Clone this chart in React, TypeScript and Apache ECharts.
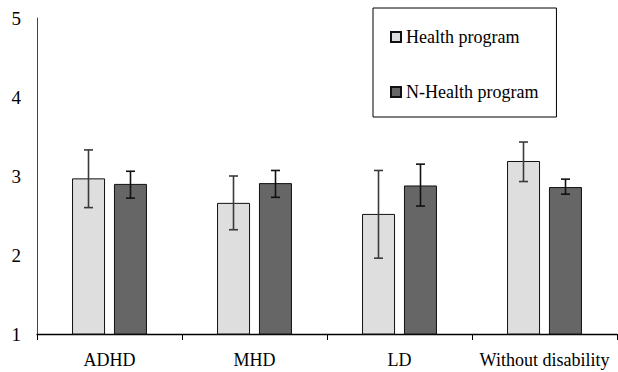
import React, { useEffect, useRef } from "react";
import * as echarts from "echarts";

const categories = ["ADHD", "MHD", "LD", "Without disability"];
const healthValues = [2.97, 2.66, 2.52, 3.19];
const healthLow = [2.6, 2.32, 1.96, 2.93];
const healthHigh = [3.33, 3.0, 3.07, 3.43];
const nHealthValues = [2.9, 2.91, 2.88, 2.86];
const nHealthLow = [2.72, 2.73, 2.62, 2.77];
const nHealthHigh = [3.06, 3.07, 3.15, 2.96];
const yTicks = [1, 2, 3, 4, 5];

const FONT = "'Liberation Serif', 'Times New Roman', serif";

function errorSeries(low: number[], high: number[], offset: number, color: string) {
  return {
    type: "custom",
    silent: true,
    z: 10,
    data: categories.map((_, i) => [i, low[i], high[i]]),
    encode: { x: 0, y: [1, 2] },
    renderItem: (params: any, api: any) => {
      const idx = api.value(0);
      const lo = api.coord([idx, api.value(1)]);
      const hi = api.coord([idx, api.value(2)]);
      const band = api.size([1, 0])[0];
      const x = lo[0] + (offset * band) / 145;
      const hw = 4.5;
      const style = { stroke: color, lineWidth: 1.6 };
      return {
        type: "group",
        children: [
          { type: "line", shape: { x1: x, y1: lo[1], x2: x, y2: hi[1] }, style },
          { type: "line", shape: { x1: x - hw, y1: hi[1], x2: x + hw, y2: hi[1] }, style },
          { type: "line", shape: { x1: x - hw, y1: lo[1], x2: x + hw, y2: lo[1] }, style },
        ],
      };
    },
  };
}

export default function App() {
  const ref = useRef<HTMLDivElement>(null);
  useEffect(() => {
    if (!ref.current) return;
    const chart = echarts.init(ref.current, undefined, { renderer: "svg" });
    chart.setOption({
      animation: false,
      backgroundColor: "#ffffff",
      grid: { left: 37, right: 1, top: 18, bottom: 38, containLabel: false },
      legend: {
        orient: "vertical",
        left: 373,
        top: 8,
        padding: [20, 18, 16, 17],
        itemGap: 37,
        itemWidth: 10,
        itemHeight: 10,
        icon: "rect",
        borderColor: "#000",
        borderWidth: 1,
        backgroundColor: "#fff",
        textStyle: { fontFamily: FONT, fontSize: 18, color: "#000" },
        data: ["Health program", "N-Health program"],
      },
      xAxis: {
        type: "category",
        data: categories,
        boundaryGap: true,
        axisLine: { lineStyle: { color: "#000", width: 1.3 } },
        axisTick: { show: true, interval: 0, length: 6, lineStyle: { color: "#000" } },
        axisLabel: { interval: 0, fontFamily: FONT, fontSize: 18, color: "#000", margin: 17 },
        splitLine: { show: false },
      },
      yAxis: {
        type: "value",
        min: yTicks[0],
        max: yTicks[yTicks.length - 1],
        interval: 1,
        axisLine: { show: true, lineStyle: { color: "#444", width: 1 } },
        axisTick: { show: false },
        splitLine: { show: false },
        axisLabel: { fontFamily: FONT, fontSize: 19, color: "#000", margin: 16 },
      },
      series: [
        {
          name: "Health program",
          type: "bar",
          data: healthValues,
          barWidth: 33,
          barGap: "27%",
          clip: true,
          itemStyle: { color: "#dedede", borderColor: "#111", borderWidth: 1 },
        },
        {
          name: "N-Health program",
          type: "bar",
          data: nHealthValues,
          barWidth: 33,
          barGap: "27%",
          clip: true,
          itemStyle: { color: "#666666", borderColor: "#111", borderWidth: 1 },
        },
        errorSeries(healthLow, healthHigh, -21, "#3a3a3a"),
        errorSeries(nHealthLow, nHealthHigh, 21, "#111"),
      ],
    });
    return () => chart.dispose();
  }, []);
  return (
    <div
      ref={ref}
      style={{ position: "fixed", left: 0, top: 0, width: 618, height: 372 }}
    />
  );
}
